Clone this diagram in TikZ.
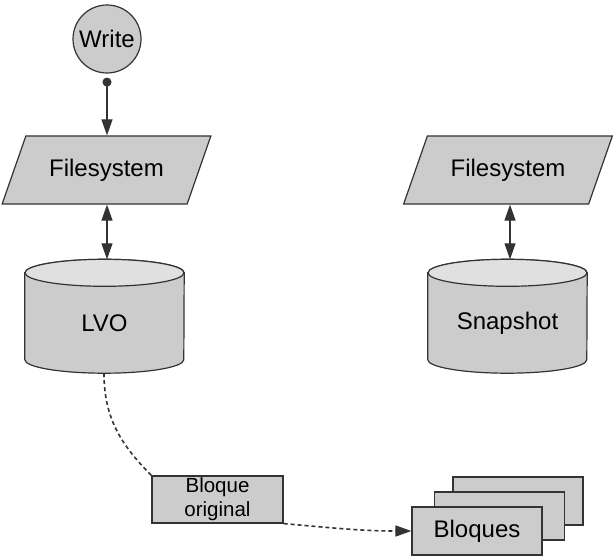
\documentclass[tikz,border=0pt]{standalone}
\usepackage{fontspec}
\setmainfont{Liberation Sans}
\usetikzlibrary{shapes.geometric,arrows.meta,backgrounds}
\definecolor{relleno}{HTML}{CCCCCC}
\definecolor{tapa}{HTML}{E0E0E0}
\definecolor{linea}{HTML}{333333}
\tikzset{
  caja/.style={draw=linea, fill=relleno, line width=1.2pt, text=black, font=\fontsize{24}{28}\selectfont},
  circulo/.style={caja, circle, minimum size=68pt, inner sep=0pt},
  paralelo/.style={caja, trapezium, trapezium left angle=53, trapezium right angle=127,
    trapezium stretches=true, minimum width=209pt, minimum height=68pt, inner sep=0pt},
  disco/.style={text=black, font=\fontsize{24}{28}\selectfont, minimum width=159pt,
    minimum height=100pt, inner sep=0pt},
  bloque/.style={caja, rectangle, minimum width=130pt, minimum height=48pt, inner sep=0pt},
  conector/.style={draw=linea, line width=1.2pt, -{Triangle[length=16pt,width=11pt]}},
  punteado/.style={conector, line width=1.6pt, dash pattern=on 4pt off 3pt}
}
% cuerpo y tapa del cilindro alrededor del nodo
\newcommand{\cilindro}[1]{%
  \draw[caja] (#1.north west) -- ([yshift=13.5pt]#1.south west)
    arc[start angle=180, end angle=360, x radius=79.5pt, y radius=13.5pt]
    -- (#1.north east)
    arc[start angle=0, end angle=180, x radius=79.5pt, y radius=13.5pt] -- cycle;
  \draw[caja, fill=tapa] (#1.north) ellipse[x radius=79.5pt, y radius=13.5pt];
}
\begin{document}
\begin{tikzpicture}[x=1pt, y=1pt]
\useasboundingbox (0,0) rectangle (615,-556);
% lado izquierdo
\node[circulo] (write) at (107,-39) {Write};
\node[paralelo] (fs1) at (106.5,-170) {Filesystem};
\node[disco] (lvo) at (104.5,-323) {LVO};
% lado derecho
\node[paralelo] (fs2) at (508,-170) {Filesystem};
\node[disco] (snap) at (507.5,-323) {Snapshot};
% bloques
\node[bloque, font=\fontsize{20.5}{24}\selectfont, align=center, minimum width=131pt,
  minimum height=47pt] (orig) at (217.5,-499.5) {Bloque\\original};
\node[bloque] (b3) at (518,-501) {};
\node[bloque] (b2) at (499.5,-516) {};
\node[bloque] (b1) at (477,-531) {Bloques};
\begin{scope}[on background layer]
\cilindro{lvo}
\cilindro{snap}
\end{scope}
% conectores
\draw[conector, {Circle[length=9pt]}-{Triangle[length=16pt,width=11pt]}, shorten <=4pt]
  (write.south) -- (fs1.north -| write.south);
\draw[conector, {Triangle[length=16pt,width=11pt]}-{Triangle[length=16pt,width=11pt]}]
  (fs1.south -| write.south) -- ([yshift=13.5pt]lvo.north -| write.south);
\draw[conector, {Triangle[length=16pt,width=11pt]}-{Triangle[length=16pt,width=11pt]}]
  ([xshift=2pt]fs2.south) -- ([xshift=2pt, yshift=13.5pt]snap.north -| fs2.south);
\draw[punteado, -] ([xshift=-0.5pt]lvo.south) to[out=-90, in=135] (orig.north west);
\draw[punteado] (orig.south east) to[out=-5, in=180] (b1.west);
\end{tikzpicture}
\end{document}
